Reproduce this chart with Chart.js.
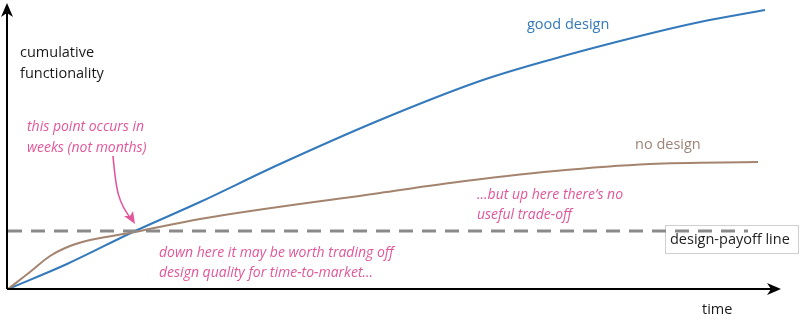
<!DOCTYPE html>
<html>
<head>
<meta charset="utf-8">
<script src="https://cdn.jsdelivr.net/npm/chart.js@4"></script>
<style>
  html, body { margin: 0; padding: 0; background: #fff; }
  #wrap { width: 800px; height: 326px; position: relative; }
</style>
</head>
<body>
<div id="wrap"><canvas id="chart"></canvas></div>
<script>
// time axis (arbitrary units) and cumulative functionality
const goodTime = [0, 59, 125, 192, 272, 372, 472, 552, 632, 692, 757];
const goodValues = [0, 25, 57, 87, 125, 169, 208, 232, 253, 267, 279];
const noTime = [0, 22, 42, 62, 82, 127, 192, 372, 442, 547, 642, 750];
const noValues = [0, 17, 33, 43, 49, 57, 70, 96, 106, 118, 125, 127];
const payoffTime = [0, 740];
const payoffValues = [58, 58];

const PINK = "#e2579a";
const BLUE = "#3479bb";
const BROWN = "#a4846f";
const FONT = "'Open Sans', 'Noto Sans', sans-serif";

function pts(xs, ys) {
  return xs.map((x, i) => ({ x: x, y: ys[i] }));
}

// box behind the dashed line end
const boxPlugin = {
  id: "box",
  beforeDatasetsDraw(chart) {
    const ctx = chart.ctx;
    ctx.save();
    ctx.fillStyle = "#fff";
    ctx.strokeStyle = "#cfcfcf";
    ctx.lineWidth = 1;
    ctx.fillRect(665.5, 225.5, 133, 28);
    ctx.strokeRect(665.5, 225.5, 133, 28);
    ctx.fillStyle = "#222";
    ctx.font = "14.5px " + FONT;
    ctx.textBaseline = "middle";
    ctx.fillText("design-payoff line", 670, 240);
    ctx.restore();
  },
};

// axes with arrow heads + annotations
const annoPlugin = {
  id: "anno",
  afterDraw(chart) {
    const ctx = chart.ctx;
    ctx.save();
    // axes
    ctx.strokeStyle = "#000";
    ctx.fillStyle = "#000";
    ctx.lineWidth = 2;
    ctx.beginPath();
    ctx.moveTo(7, 289);
    ctx.lineTo(776, 289);
    ctx.moveTo(7, 289);
    ctx.lineTo(7, 8);
    ctx.stroke();
    ctx.beginPath();
    ctx.moveTo(781, 289);
    ctx.lineTo(767, 283);
    ctx.lineTo(771, 289);
    ctx.lineTo(767, 295);
    ctx.closePath();
    ctx.fill();
    ctx.beginPath();
    ctx.moveTo(7, 3);
    ctx.lineTo(1, 17);
    ctx.lineTo(7, 13);
    ctx.lineTo(13, 17);
    ctx.closePath();
    ctx.fill();

    ctx.textBaseline = "middle";
    ctx.font = "14.5px " + FONT;
    ctx.fillStyle = "#1a1a1a";
    ctx.fillText("cumulative", 20, 53);
    ctx.fillText("functionality", 20, 74);
    ctx.fillText("time", 702, 310);

    ctx.fillStyle = BLUE;
    ctx.fillText("good design", 527, 25);
    ctx.fillStyle = "#9c8576";
    ctx.fillText("no design", 635, 145);

    ctx.fillStyle = PINK;
    ctx.font = "italic 14px " + FONT;
    ctx.fillText("this point occurs in", 27, 127);
    ctx.fillText("weeks (not months)", 27, 148);
    ctx.fillText("down here it may be worth trading off", 159, 253);
    ctx.fillText("design quality for time-to-market...", 159, 273);
    ctx.fillText("...but up here there\u2019s no", 477, 195);
    ctx.fillText("useful trade-off", 477, 215);

    // pointer arrow
    ctx.strokeStyle = PINK;
    ctx.lineWidth = 1.6;
    ctx.beginPath();
    ctx.moveTo(113, 156);
    ctx.bezierCurveTo(116, 190, 118, 203, 132, 220);
    ctx.stroke();
    ctx.beginPath();
    ctx.moveTo(135, 224);
    ctx.lineTo(124, 216);
    ctx.lineTo(130, 216);
    ctx.lineTo(133, 211);
    ctx.closePath();
    ctx.fillStyle = PINK;
    ctx.fill();
    ctx.restore();
  },
};

new Chart(document.getElementById("chart"), {
  type: "line",
  data: {
    datasets: [
      {
        label: "design-payoff line",
        data: pts(payoffTime, payoffValues),
        borderColor: "#8a8a8a",
        borderWidth: 3,
        borderDash: [14, 9],
        pointRadius: 0,
      },
      {
        label: "no design",
        data: pts(noTime, noValues),
        borderColor: BROWN,
        borderWidth: 2,
        cubicInterpolationMode: "monotone",
        pointRadius: 0,
      },
      {
        label: "good design",
        data: pts(goodTime, goodValues),
        borderColor: BLUE,
        borderWidth: 2,
        tension: 0.35,
        pointRadius: 0,
      },
    ],
  },
  options: {
    responsive: true,
    maintainAspectRatio: false,
    animation: false,
    layout: { padding: { left: 8, right: 20, top: 5, bottom: 37 } },
    plugins: { legend: { display: false }, tooltip: { enabled: false } },
    scales: {
      x: { type: "linear", min: 0, max: 772, display: false },
      y: { min: 0, max: 284, display: false },
    },
  },
  plugins: [boxPlugin, annoPlugin],
});
</script>
</body>
</html>
